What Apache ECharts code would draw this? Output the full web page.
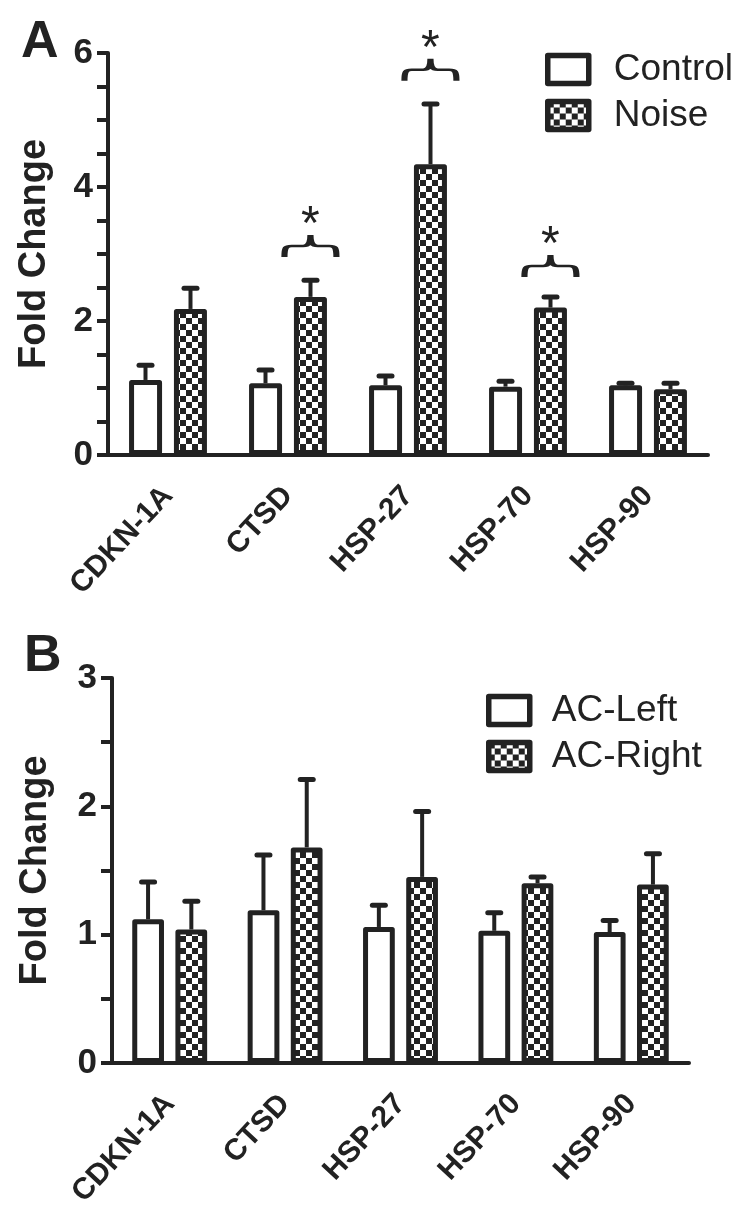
<!DOCTYPE html>
<html>
<head>
<meta charset="utf-8">
<script src="https://cdn.jsdelivr.net/npm/echarts@6/dist/echarts.min.js"></script>
<style>
  html, body { margin: 0; padding: 0; background: #fff; }
  #chart { width: 750px; height: 1214px; }
</style>
</head>
<body>
<div id="chart"></div>
<script>
// data
const categories = ['CDKN-1A', 'CTSD', 'HSP-27', 'HSP-70', 'HSP-90']

// panel A
const controlMean = [1.12, 1.07, 1.04, 1.02, 1.04]
const controlSem = [0.22, 0.20, 0.14, 0.08, 0.03]
const noiseMean = [2.18, 2.36, 4.34, 2.20, 0.98]
const noiseSem = [0.31, 0.25, 0.90, 0.16, 0.09]
const sigGenes = ['CTSD', 'HSP-27', 'HSP-70']
const sigLevel = [3.12, 5.75, 2.82]
const ticksA = [0, 2, 4, 6]

// panel B
const acLeftMean = [1.12, 1.19, 1.06, 1.03, 1.02]
const acLeftSem = [0.29, 0.43, 0.17, 0.14, 0.09]
const acRightMean = [1.04, 1.68, 1.45, 1.40, 1.39]
const acRightSem = [0.22, 0.53, 0.51, 0.05, 0.24]
const ticksB = [0, 1, 2, 3]

const INK = '#222'
const FONT = '"Liberation Sans", Arial, sans-serif'

// checkerboard fill
const checker = document.createElement('canvas')
checker.width = 12
checker.height = 12
const ctx = checker.getContext('2d')
ctx.fillStyle = '#fff'
ctx.fillRect(0, 0, 12, 12)
ctx.fillStyle = INK
ctx.fillRect(0, 0, 6, 6)
ctx.fillRect(6, 6, 6, 6)
const checkerFill = { image: checker, repeat: 'repeat' }

// brace pointing up, drawn as a stroke
const bracePath = 'path://M0,40 C0,22 3,20 14,20 L36,20 C46,20 50,14 50,0 C50,14 54,20 64,20 L86,20 C97,20 100,22 100,40'

const errData = (mean, sem) => mean.map((m, i) => [i, m + sem[i], m])

// error bar: stem from mean up to mean+sem, with a cap
const errorBar = (side) => (params, api) => {
  const idx = api.value(0)
  const lo = api.coord([idx, api.value(2)])
  const hi = api.coord([idx, api.value(1)])
  const band = api.size([1, 0])[0]
  const x = lo[0] + side * band * 0.1875
  return {
    type: 'group',
    children: [
      { type: 'line', shape: { x1: x, y1: lo[1], x2: x, y2: hi[1] }, style: { stroke: INK, lineWidth: 4 } },
      { type: 'line', shape: { x1: x - 6.5, y1: hi[1], x2: x + 6.5, y2: hi[1] }, style: { stroke: INK, lineWidth: 5, lineCap: 'round' } }
    ]
  }
}

const barSeries = (name, data, axis, fill) => ({
  name: name,
  type: 'bar',
  xAxisIndex: axis,
  yAxisIndex: axis,
  data: data,
  barWidth: '27.5%',
  barGap: '36%',
  itemStyle: { color: fill, borderColor: INK, borderWidth: 5, borderJoin: 'round' },
  emphasis: { disabled: true },
  animation: false
})

const errSeries = (data, axis, side) => ({
  type: 'custom',
  xAxisIndex: axis,
  yAxisIndex: axis,
  data: data,
  encode: { x: 0, y: [1, 2] },
  renderItem: errorBar(side),
  z: 3,
  silent: true,
  animation: false
})

const xAxisCfg = (grid) => ({
  type: 'category',
  gridIndex: grid,
  data: categories,
  axisLine: { lineStyle: { color: INK, width: 4 } },
  axisTick: { alignWithLabel: true, length: 13, lineStyle: { color: INK, width: 3.5 } },
  axisLabel: {
    rotate: 47, margin: 36, interval: 0,
    fontFamily: FONT, fontSize: 30, fontWeight: 'bold', color: INK
  }
})

const yAxisCfg = (grid, max, ticks, gap) => ({
  type: 'value',
  gridIndex: grid,
  min: 0,
  max: max,
  interval: 0.5,
  name: 'Fold Change',
  nameLocation: 'middle',
  nameGap: gap,
  nameTextStyle: { fontFamily: FONT, fontSize: 38, fontWeight: 'bold', color: INK },
  axisLine: { show: true, lineStyle: { color: INK, width: 4 } },
  axisTick: { show: true, length: 11, lineStyle: { color: INK, width: 4 } },
  axisLabel: {
    margin: 15, fontFamily: FONT, fontSize: 35, fontWeight: 'bold', color: INK,
    formatter: (v) => (ticks.includes(v) ? String(v) : '')
  },
  splitLine: { show: false }
})

const legendCfg = (names, left, top, pad) => ({
  data: names,
  orient: 'vertical',
  left: left,
  top: top,
  padding: 0,
  icon: 'rect',
  itemWidth: 41,
  itemHeight: 28,
  itemGap: 9,
  selectedMode: false,
  itemStyle: { borderWidth: 5.5, borderJoin: 'round' },
  textStyle: { fontFamily: FONT, fontSize: 37, color: INK, padding: [0, 0, 0, pad] }
})

const chart = echarts.init(document.getElementById('chart'))

chart.setOption({
  backgroundColor: '#fff',
  animation: false,
  title: [
    { text: 'A', left: 21, top: 17, padding: 0, textStyle: { fontFamily: FONT, fontSize: 52, fontWeight: 'bold', color: INK } },
    { text: 'B', left: 24, top: 631, padding: 0, textStyle: { fontFamily: FONT, fontSize: 52, fontWeight: 'bold', color: INK } }
  ],
  legend: [
    legendCfg(['Control', 'Noise'], 545, 51, 20),
    legendCfg(['AC-Left', 'AC-Right'], 486, 692, 17)
  ],
  grid: [
    { left: 108, top: 53, width: 600, height: 402 },
    { left: 112, top: 678, width: 577, height: 385 }
  ],
  xAxis: [xAxisCfg(0), xAxisCfg(1)],
  yAxis: [yAxisCfg(0, 6, ticksA, 54), yAxisCfg(1, 3, ticksB, 57)],
  series: [
    barSeries('Control', controlMean, 0, '#fff'),
    Object.assign(barSeries('Noise', noiseMean, 0, checkerFill), {
      markPoint: {
        symbol: bracePath,
        symbolSize: [52, 22],
        silent: true,
        itemStyle: { color: 'rgba(0,0,0,0)', borderColor: INK, borderWidth: 4 },
        label: {
          show: true, formatter: '*', position: 'top', distance: -16,
          fontFamily: FONT, fontSize: 48, color: INK
        },
        data: sigGenes.map((g, i) => ({ coord: [g, sigLevel[i]] }))
      }
    }),
    errSeries(errData(controlMean, controlSem), 0, -1),
    errSeries(errData(noiseMean, noiseSem), 0, 1),
    barSeries('AC-Left', acLeftMean, 1, '#fff'),
    barSeries('AC-Right', acRightMean, 1, checkerFill),
    errSeries(errData(acLeftMean, acLeftSem), 1, -1),
    errSeries(errData(acRightMean, acRightSem), 1, 1)
  ]
})
</script>
</body>
</html>
